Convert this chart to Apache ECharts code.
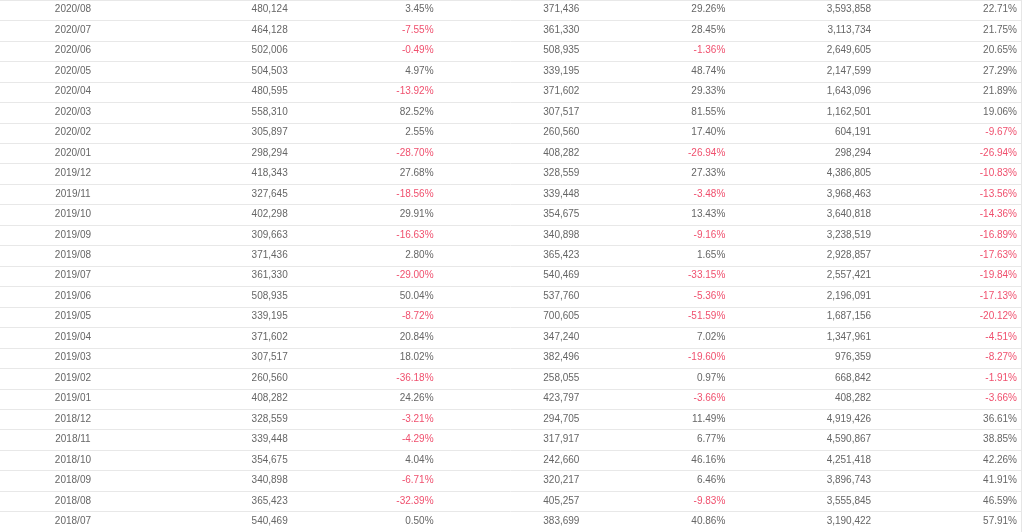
<!DOCTYPE html>
<html>
<head>
<meta charset="utf-8">
<script src="https://cdn.jsdelivr.net/npm/echarts@6/dist/echarts.min.js"></script>
<style>
  html, body { margin: 0; padding: 0; background: #fff; }
  #main { width: 1024px; height: 532px; }
</style>
</head>
<body>
<div id="main"></div>
<script>
  // table rows, newest first
  var months = ['2020/08','2020/07','2020/06','2020/05','2020/04','2020/03','2020/02','2020/01',
    '2019/12','2019/11','2019/10','2019/09','2019/08','2019/07','2019/06','2019/05','2019/04',
    '2019/03','2019/02','2019/01','2018/12','2018/11','2018/10','2018/09','2018/08','2018/07'];
  var valueA = [480124,464128,502006,504503,480595,558310,305897,298294,418343,327645,402298,
    309663,371436,361330,508935,339195,371602,307517,260560,408282,328559,339448,354675,
    340898,365423,540469];
  var changeA = [3.45,-7.55,-0.49,4.97,-13.92,82.52,2.55,-28.70,27.68,-18.56,29.91,-16.63,2.80,
    -29.00,50.04,-8.72,20.84,18.02,-36.18,24.26,-3.21,-4.29,4.04,-6.71,-32.39,0.50];
  var valueB = [371436,361330,508935,339195,371602,307517,260560,408282,328559,339448,354675,
    340898,365423,540469,537760,700605,347240,382496,258055,423797,294705,317917,242660,
    320217,405257,383699];
  var changeB = [29.26,28.45,-1.36,48.74,29.33,81.55,17.40,-26.94,27.33,-3.48,13.43,-9.16,1.65,
    -33.15,-5.36,-51.59,7.02,-19.60,0.97,-3.66,11.49,6.77,46.16,6.46,-9.83,40.86];
  var cumulative = [3593858,3113734,2649605,2147599,1643096,1162501,604191,298294,4386805,
    3968463,3640818,3238519,2928857,2557421,2196091,1687156,1347961,976359,668842,408282,
    4919426,4590867,4251418,3896743,3555845,3190422];
  var cumChange = [22.71,21.75,20.65,27.29,21.89,19.06,-9.67,-26.94,-10.83,-13.56,-14.36,-16.89,
    -17.63,-19.84,-17.13,-20.12,-4.51,-8.27,-1.91,-3.66,36.61,38.85,42.26,41.91,46.59,57.91];

  var columns = [months, valueA, changeA, valueB, changeB, cumulative, cumChange];
  var isPct = [false, false, true, false, true, false, true];

  function fmtNum(v) {
    return String(v).replace(/\B(?=(\d{3})+(?!\d))/g, ',');
  }

  var cells = [];
  var points = [];
  for (var c = 0; c < columns.length; c++) {
    for (var r = 0; r < months.length; r++) {
      var v = columns[c][r];
      var text, color = '#666';
      if (c === 0) {
        text = v;
      } else if (isPct[c]) {
        text = v.toFixed(2) + '%';
        if (v < 0) color = '#f0506e';
      } else {
        text = fmtNum(v);
      }
      cells.push({ text: text, color: color });
      points.push([c, r]);
    }
  }

  var chart = echarts.init(document.getElementById('main'));
  chart.setOption({
    animation: false,
    grid: { left: -1, right: 3, top: -2.15, bottom: -2.75 },
    xAxis: {
      type: 'category',
      data: ['0','1','2','3','4','5','6'],
      show: false
    },
    yAxis: {
      type: 'category',
      data: months,
      inverse: true,
      position: 'right',
      axisLabel: { show: false },
      axisTick: { show: false },
      axisLine: { show: true, lineStyle: { color: '#e6e6e6' } },
      splitLine: { show: true, interval: 0, lineStyle: { color: '#e8e8e8', width: 1 } }
    },
    series: [{
      type: 'custom',
      data: points,
      encode: { x: 0, y: 1 },
      renderItem: function (params, api) {
        var col = api.value(0), row = api.value(1);
        var p = api.coord([col, row]);
        var w = api.size([1, 1])[0];
        var cell = cells[params.dataIndex];
        return {
          type: 'text',
          style: {
            text: cell.text,
            x: col === 0 ? p[0] : p[0] + w / 2 - 4,
            y: p[1] - 0.5,
            align: col === 0 ? 'center' : 'right',
            verticalAlign: 'middle',
            fill: cell.color,
            fontSize: 10,
            fontFamily: '"Liberation Sans", Arial, sans-serif'
          }
        };
      }
    }]
  });
</script>
</body>
</html>
